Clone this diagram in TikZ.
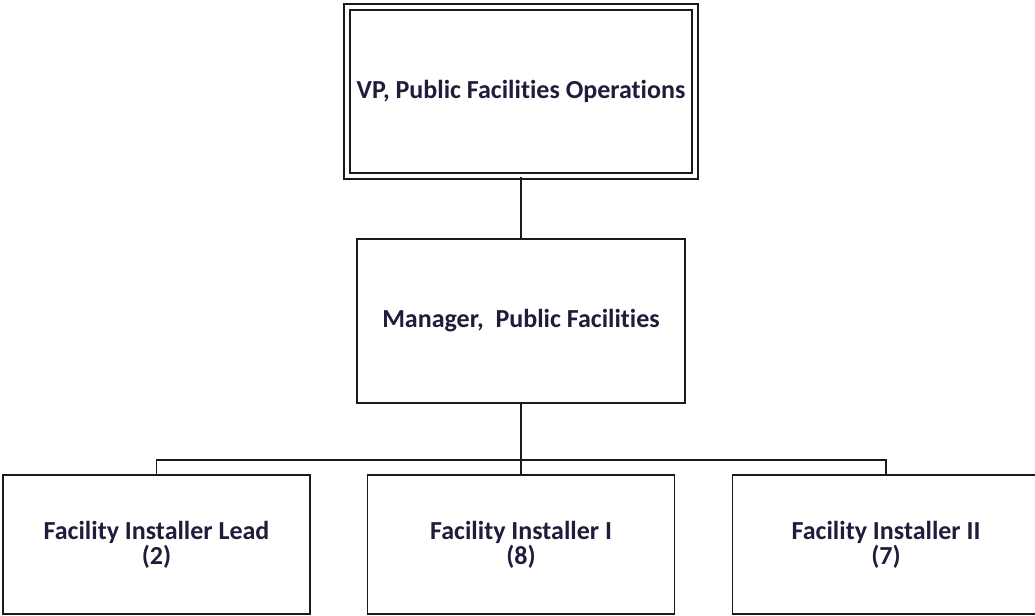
\documentclass[tikz,border=0pt]{standalone}
\usepackage{fontspec}
\setmainfont[Ligatures={NoCommon}]{Carlito}
\usepackage{tikz}
\usepackage{xcolor}
\usetikzlibrary{positioning}
\definecolor{Org_Ink}{HTML}{1E1E3C}
\definecolor{Org_Line}{HTML}{1A1A1A}

\begin{document}
\begin{tikzpicture}[x=0.75pt, y=-0.75pt,
    orgbox/.style={draw=Org_Line, line width=1pt, fill=white, align=center,
        text=Org_Ink, font=\fontsize{19.5}{17.5}\selectfont\bfseries, inner sep=0pt},
    topbox/.style={orgbox, double=white, double distance=3.6pt},
    link/.style={draw=Org_Line, line width=1pt}]
    \useasboundingbox (0,0) rectangle (1035,615);
    % Top of the chart
    \node[topbox, minimum width=261pt, minimum height=126.75pt] (vp) at (521,91.5)
        {VP, Public Facilities Operations};
    \node[orgbox, minimum width=246pt, minimum height=123pt] (mgr) at (521,321)
        {Manager,\ \ Public Facilities};
    % Staff positions
    \node[orgbox, minimum width=230.25pt, minimum height=104.25pt] (lead) at (156.5,544.5)
        {Facility Installer Lead\\(2)};
    \node[orgbox, minimum width=230.25pt, minimum height=104.25pt] (inst1) at (521,544.5)
        {Facility Installer I\\(8)};
    \node[orgbox, minimum width=230.25pt, minimum height=104.25pt] (inst2) at (886,544.5)
        {Facility Installer II\\(7)};
    % Reporting lines
    \coordinate (bar) at (521,460);
    \draw[link] (vp) -- (mgr);
    \draw[link] (mgr.south) -- (inst1.north);
    \draw[link] (lead.north) |- (bar) -| (inst2.north);
\end{tikzpicture}
\end{document}
